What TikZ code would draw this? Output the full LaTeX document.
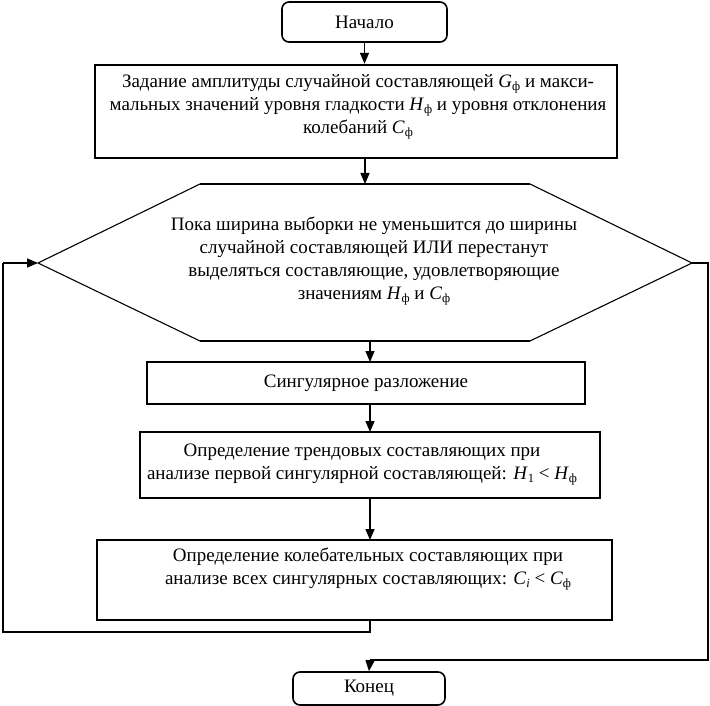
\documentclass[tikz,border=0pt]{standalone}
\usepackage{fontspec}
\setmainfont{Liberation Serif}
\usetikzlibrary{arrows.meta}
\newcommand\sbs[1]{\raisebox{-0.35ex}{\fontsize{12.5}{12.5}\selectfont #1}}
\begin{document}
\begin{tikzpicture}[x=1pt,y=1pt,
  txt/.style={font=\fontsize{19}{23}\selectfont, align=center, inner sep=0pt},
  term/.style={draw, line width=1.6pt, rounded corners=7pt, font=\fontsize{19}{23}\selectfont},
  blk/.style={draw, line width=2pt, inner sep=0pt},
  conn/.style={line width=1.3pt},
  arr/.style={conn, -{Triangle[length=11pt,width=9pt]}}]
\useasboundingbox (0,0) rectangle (710,-706);
% terminals
\node[term, minimum width=165, minimum height=40] (start) at (364.5,-22) {Начало};
\node[term, minimum width=152, minimum height=33] (end) at (369,-688.5) {Конец};
% box 1
\node[blk, minimum width=522, minimum height=93, line width=2.4pt] (b1) at (356,-111.5) {};
\node[txt] (t1) at (358,-107) {Задание амплитуды случайной составляющей \textit{G}\sbs{ф} и макси-\\мальных значений уровня гладкости \textit{H}\sbs{ф} и уровня отклонения\\колебаний \textit{C}\sbs{ф}};
% hexagon
\coordinate (htl) at (200,-184);
\coordinate (htr) at (530,-184);
\coordinate (hr) at (692,-263);
\coordinate (hbr) at (530,-341);
\coordinate (hbl) at (200,-341);
\coordinate (hl) at (38,-263);
\draw[line width=1.1pt] (htl) -- (htr) -- (hr) -- (hbr) -- (hbl) -- (hl) -- cycle;
\draw[line width=2pt] (htl) -- (htr) (hbl) -- (hbr);
\node[txt] (cond) at (374,-261.5) {Пока ширина выборки не уменьшится до ширины\\случайной составляющей ИЛИ перестанут\\выделяться составляющие, удовлетворяющие\\значениям \textit{H}\sbs{ф} и \textit{C}\sbs{ф}};
% box 2
\node[blk, minimum width=438, minimum height=42, line width=1.8pt] (b2) at (366,-383) {};
\node[txt] (t2) at (366,-383) {Сингулярное разложение};
% box 3
\node[blk, minimum width=460, minimum height=66, line width=1.6pt] (b3) at (370,-465) {};
\node[txt] (t3) at (362,-465) {Определение трендовых составляющих при\\анализе первой сингулярной составляющей: \textit{H}\sbs{1} < \textit{H}\sbs{ф}};
% box 4
\node[blk, minimum width=515, minimum height=80] (b4) at (354.5,-580) {};
\node[txt] (t4) at (368,-569) {Определение колебательных составляющих при\\анализе всех сингулярных составляющих: \textit{C}\sbs{\textit{i}} < \textit{C}\sbs{ф}};
% connectors
\draw[arr] (start.south) -- (start.south |- b1.north);
\draw[arr] (365,-158) -- (htl -| 365,0);
\draw[arr] (hbl -| 370,0) -- (370,-362);
\draw[arr] (370,-404) -- (370,-432);
\draw[arr] (370,-498) -- (370,-540);
% loop back
\coordinate (lp1) at (370,-632);
\coordinate (lp2) at (3,-632);
\coordinate (lp3) at (3,-263);
\draw[conn] (370,-620) -- (lp1) -- (lp2) -- (lp3);
\draw[arr] (lp3) -- (hl);
% exit
\coordinate (ex1) at (708,-263);
\coordinate (ex2) at (708,-660);
\coordinate (ex3) at (370,-660);
\draw[conn] (hr) -- (ex1) -- (ex2) -- (ex3);
\draw[arr] (ex3) -- (end.north);
\end{tikzpicture}
\end{document}
